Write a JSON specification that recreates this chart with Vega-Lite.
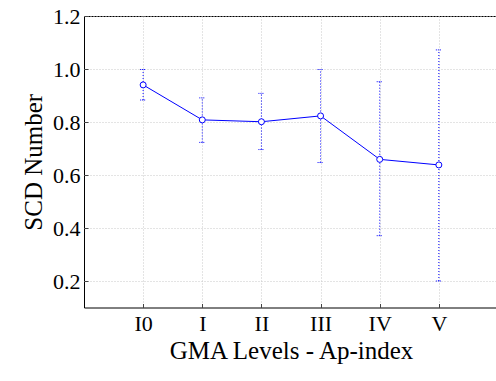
{
  "$schema": "https://vega.github.io/schema/vega-lite/v6.json",
  "width": 414,
  "height": 291.5,
  "autosize": "none",
  "padding": {"left": 84, "top": 16, "right": 0, "bottom": 74},
  "background": "white",
  "config": {
    "view": {"stroke": "black", "strokeWidth": 1},
    "font": "Liberation Serif",
    "axis": {
      "labelFontSize": 22,
      "titleFontSize": 25,
      "titleFontWeight": "normal",
      "labelColor": "black",
      "titleColor": "black",
      "labelFont": "Liberation Serif",
      "titleFont": "Liberation Serif",
      "domain": false,
      "tickSize": -4,
      "tickColor": "#444",
      "grid": false
    }
  },
  "data": {
    "values": [
      {"level": "I0", "scd": 0.940, "lo": 0.883, "hi": 0.998},
      {"level": "I", "scd": 0.808, "lo": 0.723, "hi": 0.891},
      {"level": "II", "scd": 0.801, "lo": 0.696, "hi": 0.908},
      {"level": "III", "scd": 0.823, "lo": 0.647, "hi": 0.998},
      {"level": "IV", "scd": 0.659, "lo": 0.371, "hi": 0.952},
      {"level": "V", "scd": 0.638, "lo": 0.200, "hi": 1.072}
    ]
  },
  "layer": [
    {
      "mark": {"type": "rule", "color": "#0000ff", "strokeDash": [1, 2], "strokeWidth": 1},
      "encoding": {
        "x": {
          "field": "level",
          "type": "ordinal",
          "sort": null,
          "scale": {"type": "point", "padding": 1},
          "axis": {
            "title": "GMA Levels - Ap-index",
            "labelAngle": 0,
            "labelFontSize": 22,
            "labelPadding": 10,
            "titlePadding": 4,
            "grid": true,
            "gridDash": [1, 2],
            "gridColor": "#c8c8c8"
          }
        },
        "y": {
          "field": "lo",
          "type": "quantitative",
          "scale": {"domain": [0.1, 1.2], "nice": false, "zero": false},
          "axis": {
            "title": "SCD Number",
            "values": [0.2, 0.4, 0.6, 0.8, 1.0, 1.2],
            "format": ".1f",
            "labelFontSize": 22,
            "labelPadding": 8,
            "titlePadding": 6,
            "grid": true,
            "gridDash": [1, 2],
            "gridColor": "#c8c8c8"
          }
        },
        "y2": {"field": "hi"}
      }
    },
    {
      "mark": {"type": "point", "shape": "M-1,0L1,0", "color": "#0000ff", "strokeDash": [1, 1], "size": 36, "strokeWidth": 1, "filled": false, "opacity": 1},
      "encoding": {
        "x": {"field": "level", "type": "ordinal", "sort": null},
        "y": {"field": "lo", "type": "quantitative"}
      }
    },
    {
      "mark": {"type": "point", "shape": "M-1,0L1,0", "color": "#0000ff", "strokeDash": [1, 1], "size": 36, "strokeWidth": 1, "filled": false, "opacity": 1},
      "encoding": {
        "x": {"field": "level", "type": "ordinal", "sort": null},
        "y": {"field": "hi", "type": "quantitative"}
      }
    },
    {
      "mark": {"type": "line", "color": "#0000ff", "strokeWidth": 1},
      "encoding": {
        "x": {"field": "level", "type": "ordinal", "sort": null},
        "y": {"field": "scd", "type": "quantitative"}
      }
    },
    {
      "mark": {"type": "point", "shape": "circle", "filled": true, "fill": "white", "stroke": "#0000ff", "strokeWidth": 1, "size": 36, "opacity": 1},
      "encoding": {
        "x": {"field": "level", "type": "ordinal", "sort": null},
        "y": {"field": "scd", "type": "quantitative"}
      }
    }
  ]
}
